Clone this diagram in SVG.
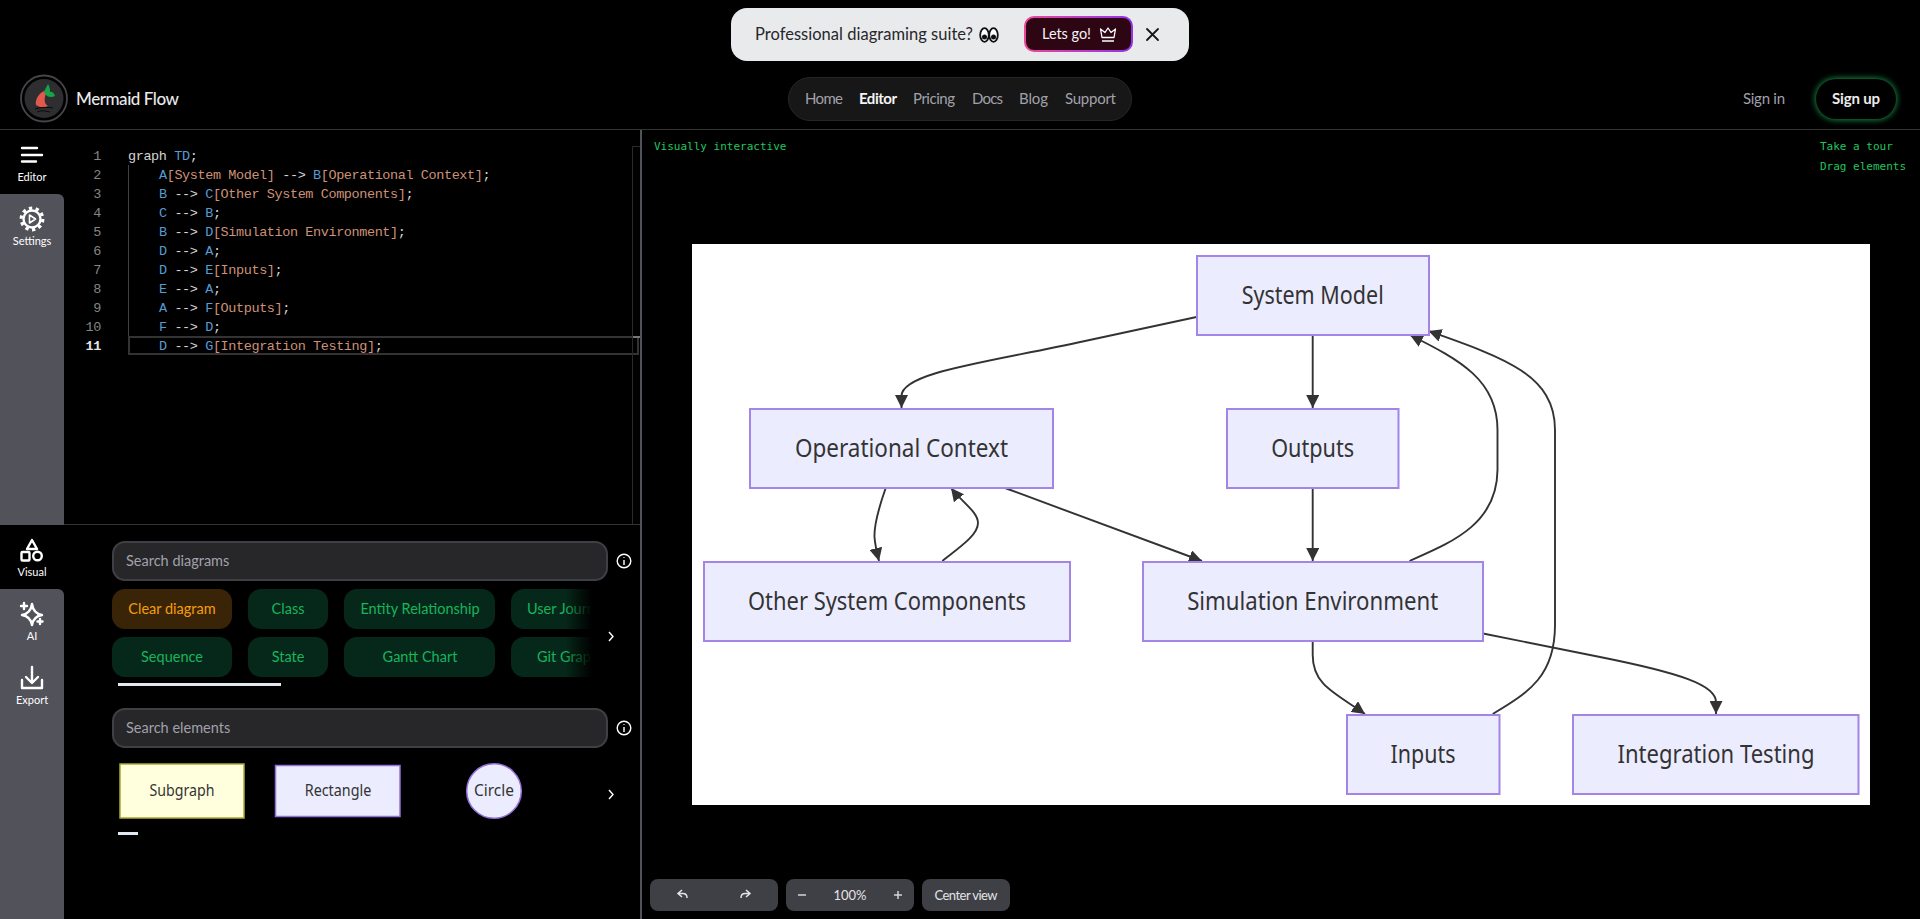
<svg xmlns="http://www.w3.org/2000/svg" width="1920" height="919" viewBox="0 0 1920 919">
<style>
text{font-family:"Lato","Noto Sans",sans-serif}
.code{font-family:"Liberation Mono","DejaVu Sans Mono",monospace;font-size:13.5px;letter-spacing:-.4px;fill:#d4d4d4;white-space:pre}
.b{fill:#569cd6}.o{fill:#ce9178}
.ln{font-family:"Liberation Mono","DejaVu Sans Mono",monospace;font-size:13.5px;letter-spacing:-.4px;fill:#858585;text-anchor:end}
.hint{font-family:"DejaVu Sans Mono","Liberation Mono",monospace;font-size:11px;fill:#22c55e}
.nav{font-size:15px;fill:#a1a1aa}
.side{font-size:11px;fill:#fff;text-anchor:middle}
.ic{fill:none;stroke:#fff;stroke-width:2.4;stroke-linecap:round;stroke-linejoin:round}
.search{fill:#27272a;stroke:#3f3f46;stroke-width:2}
.ph{font-size:14.5px;fill:#a1a1aa}
.pill{fill:#06281a}
.pt{font-size:14.5px;fill:#18b45c;text-anchor:middle}
.tb{fill:#3f3f46}
.tbt{font-size:13px;fill:#e4e4e7;text-anchor:middle}
.n{fill:#ececff;stroke:#a285e6;stroke-width:2}
.nt{font-family:"Noto Sans",sans-serif;font-size:25.5px;fill:#333;text-anchor:middle}
.et{font-family:"Noto Sans",sans-serif;font-size:16px;fill:#333;text-anchor:middle}
.e{fill:none;stroke:#333;stroke-width:1.9;marker-end:url(#ah)}
</style>
<defs>
<marker id="ah" markerUnits="userSpaceOnUse" markerWidth="13" markerHeight="13" viewBox="0 0 10 10" refX="10" refY="5" orient="auto"><path d="M0,0L10,5L0,10z" fill="#333"/></marker>
<linearGradient id="btn" x1="0" y1="0" x2="1" y2="0"><stop offset="0" stop-color="#ec4899"/><stop offset="1" stop-color="#9333ea"/></linearGradient>
<linearGradient id="fade" x1="0" y1="0" x2="1" y2="0"><stop offset="0" stop-color="#000" stop-opacity="0"/><stop offset="1" stop-color="#000"/></linearGradient>
<filter id="glow" x="-30%" y="-60%" width="160%" height="220%"><feGaussianBlur stdDeviation="3.5"/></filter>
</defs>
<rect id="bg" width="1920" height="919" fill="#000"/>

<g id="banner">
<rect x="731" y="8" width="458" height="53" rx="16" fill="#e9eaec"/>
<text x="755" y="39.5" font-size="16.5" fill="#27272a" textLength="218">Professional diagraming suite?</text>
<g id="eyes"><ellipse cx="984.500" cy="35" rx="4.300" ry="6.800" fill="#fff" stroke="#111" stroke-width="1.800"/><ellipse cx="993.500" cy="35" rx="4.300" ry="6.800" fill="#fff" stroke="#111" stroke-width="1.800"/><circle cx="984.500" cy="37" r="2.500" fill="#111"/><circle cx="993.500" cy="37" r="2.500" fill="#111"/></g>
<rect x="1025" y="17" width="107" height="34" rx="9" fill="#2e0512" stroke="url(#btn)" stroke-width="2"/>
<text x="1042" y="38.5" font-size="14.5" fill="#f4f4f5" textLength="49">Lets go!</text>
<path d="M1102,41H1114M1102,37.5L1100.5,29L1105,32.5L1108,28L1111,32.5L1115.5,29L1114,37.5Z" fill="none" stroke="#fff" stroke-width="1.3" stroke-linejoin="round"/>
<path d="M1147,29L1158,40M1158,29L1147,40" stroke="#18181b" stroke-width="1.8" stroke-linecap="round"/>
</g>

<g id="header">
<g id="logo"><circle cx="44" cy="98.500" r="23" fill="#000" stroke="#46464a" stroke-width="1.800"/><circle cx="44" cy="98.500" r="19.500" fill="#2e2e31"/>
<path d="M44,91C38,94 35,100 36,105C40,108 45,108 48,106C44,104 44,98 46,94Z" fill="#e4574c"/><path d="M44,92C45,89 47,86 48,84C50,87 50,90 50,92C52,91 54,93 55,96C51,98 46,97 44,92Z" fill="#16a34a"/>
<path d="M35,109C40,107 48,107 53,108M37,112C41,110 46,111 50,112" fill="none" stroke="#0a0a0a" stroke-width="1"/></g>
<text x="76" y="104.500" font-size="17" font-weight="500" fill="#e8e8ea" textLength="103">Mermaid Flow</text>
<rect x="788.5" y="77.5" width="343" height="43" rx="21.5" fill="#171717" stroke="#262626"/>
<text class="nav" x="805" y="103.500" textLength="38">Home</text>
<text class="nav" x="859" y="103.500" textLength="38" style="fill:#f4f4f5;font-weight:700">Editor</text>
<text class="nav" x="913" y="103.500" textLength="42">Pricing</text>
<text class="nav" x="972" y="103.500" textLength="31">Docs</text>
<text class="nav" x="1019" y="103.500" textLength="29">Blog</text>
<text class="nav" x="1065" y="103.500" textLength="51">Support</text>
<text class="nav" x="1743" y="103.500" textLength="42">Sign in</text>
<rect x="1816" y="79" width="80" height="40" rx="20" fill="#22c55e" filter="url(#glow)" opacity=".9"/>
<rect x="1816" y="79" width="80" height="40" rx="20" fill="#000"/>
<text x="1832" y="103.500" font-size="15" font-weight="700" fill="#ececec" textLength="48">Sign up</text>
<rect x="0" y="129" width="1920" height="1" fill="#333"/>
</g>

<g id="sidebar">
<path d="M0,589H58a6,6 0 0 1 6,6V919H0Z" fill="#52525b"/>
<path d="M0,194H58a6,6 0 0 1 6,6V525H0Z" fill="#52525b"/>
<path class="ic" d="M22,148H37M22,155H42M22,161.5H36"/>
<text class="side" x="32" y="180.5">Editor</text>
<g class="ic"><circle cx="32" cy="219" r="8.500"/><circle cx="32" cy="219" r="10.800" stroke-dasharray="3.300 3.480" stroke-width="3.200" style="stroke-linecap:butt"/><path d="M29.500,215L35.500,219L29.500,223Z" stroke-width="1.600"/></g>
<text class="side" x="32" y="244.500">Settings</text>
<path class="ic" d="M32,540L37,549H27Z"/><rect class="ic" x="21.500" y="552" width="8" height="8.500" rx="1"/><circle class="ic" cx="37.500" cy="556" r="4.300"/>
<text class="side" x="32" y="575.500">Visual</text>
<path class="ic" d="M32,604C33,611 36,614 42,615C36,616 33,619 32,625C31,619 28,616 22,615C28,614 31,611 32,604Z"/><path class="ic" stroke-width="1.800" d="M24,603V609M21,606H27M40,619V624M37.500,621.500H42.500"/>
<text class="side" x="32" y="639.500">AI</text>
<path class="ic" d="M32,667V682M26,677L32,683L38,677M22,680V688H42V680"/>
<text class="side" x="32" y="703.500">Export</text>
</g>

<g id="editor">
<rect x="128" y="165" width="1" height="189" fill="#404040"/>
<rect x="129" y="337" width="509" height="17" fill="none" stroke="#333" stroke-width="2"/>
<path d="M640,146.500H632.500V524" fill="none" stroke="#2a2a2a"/>
<rect x="633" y="336" width="7" height="2" fill="#777"/>
<text class="ln" x="101" y="160">1</text><text class="ln" x="101" y="179">2</text><text class="ln" x="101" y="198">3</text><text class="ln" x="101" y="217">4</text><text class="ln" x="101" y="236">5</text><text class="ln" x="101" y="255">6</text><text class="ln" x="101" y="274">7</text><text class="ln" x="101" y="293">8</text><text class="ln" x="101" y="312">9</text><text class="ln" x="101" y="331">10</text><text class="ln" x="101" y="350" style="fill:#e4e4e4;font-weight:700">11</text>
<text class="code" x="128" y="160" xml:space="preserve">graph <tspan class="b">TD</tspan>;</text>
<text class="code" x="159" y="179" xml:space="preserve"><tspan class="b">A</tspan><tspan class="o">[System Model]</tspan> --&gt; <tspan class="b">B</tspan><tspan class="o">[Operational Context]</tspan>;</text>
<text class="code" x="159" y="198" xml:space="preserve"><tspan class="b">B</tspan> --&gt; <tspan class="b">C</tspan><tspan class="o">[Other System Components]</tspan>;</text>
<text class="code" x="159" y="217" xml:space="preserve"><tspan class="b">C</tspan> --&gt; <tspan class="b">B</tspan>;</text>
<text class="code" x="159" y="236" xml:space="preserve"><tspan class="b">B</tspan> --&gt; <tspan class="b">D</tspan><tspan class="o">[Simulation Environment]</tspan>;</text>
<text class="code" x="159" y="255" xml:space="preserve"><tspan class="b">D</tspan> --&gt; <tspan class="b">A</tspan>;</text>
<text class="code" x="159" y="274" xml:space="preserve"><tspan class="b">D</tspan> --&gt; <tspan class="b">E</tspan><tspan class="o">[Inputs]</tspan>;</text>
<text class="code" x="159" y="293" xml:space="preserve"><tspan class="b">E</tspan> --&gt; <tspan class="b">A</tspan>;</text>
<text class="code" x="159" y="312" xml:space="preserve"><tspan class="b">A</tspan> --&gt; <tspan class="b">F</tspan><tspan class="o">[Outputs]</tspan>;</text>
<text class="code" x="159" y="331" xml:space="preserve"><tspan class="b">F</tspan> --&gt; <tspan class="b">D</tspan>;</text>
<text class="code" x="159" y="350" xml:space="preserve"><tspan class="b">D</tspan> --&gt; <tspan class="b">G</tspan><tspan class="o">[Integration Testing]</tspan>;</text>
</g>

<rect id="split-h" x="64" y="524" width="577" height="1" fill="#333"/>
<rect id="split-v" x="640" y="130" width="2" height="789" fill="#52525b"/>

<g id="library">
<rect class="search" x="113" y="542" width="494" height="38" rx="12"/>
<text class="ph" x="126" y="565.500">Search diagrams</text>
<g fill="none" stroke="#fff" stroke-width="1.400"><circle cx="624" cy="561" r="6.800"/><path d="M624,560V565M624,557V557.800"/></g>
<rect x="112" y="589" width="120" height="40" rx="13" fill="#3a2408"/>
<text class="pt" x="172" y="614" style="fill:#f59e0b">Clear diagram</text>
<rect class="pill" x="248" y="589" width="80" height="40" rx="13"/><text class="pt" x="288" y="614">Class</text>
<rect class="pill" x="344" y="589" width="151" height="40" rx="13"/><text class="pt" x="420" y="614">Entity Relationship</text>
<rect class="pill" x="511" y="589" width="100" height="40" rx="13"/><text x="527" y="614" font-size="14.500" fill="#18b45c">User Journ</text>
<rect class="pill" x="112" y="637" width="120" height="40" rx="13"/><text class="pt" x="172" y="662">Sequence</text>
<rect class="pill" x="248" y="637" width="80" height="40" rx="13"/><text class="pt" x="288" y="662">State</text>
<rect class="pill" x="344" y="637" width="151" height="40" rx="13"/><text class="pt" x="420" y="662">Gantt Chart</text>
<rect class="pill" x="511" y="637" width="100" height="40" rx="13"/><text x="537" y="662" font-size="14.500" fill="#18b45c">Git Grap</text>
<rect x="565" y="585" width="27" height="96" fill="url(#fade)"/><rect x="592" y="585" width="24" height="96" fill="#000"/>
<path d="M609,632L613,636.500L609,641" fill="none" stroke="#fff" stroke-width="1.400"/>
<rect x="118" y="683" width="163" height="3" fill="#e2e8f0"/>
<rect class="search" x="113" y="709" width="494" height="38" rx="12"/>
<text class="ph" x="126" y="732.500">Search elements</text>
<g fill="none" stroke="#fff" stroke-width="1.400"><circle cx="624" cy="728" r="6.800"/><path d="M624,727V732M624,724V724.800"/></g>
<rect x="120" y="764" width="124" height="54" fill="#ffffde" stroke="#aaaa33" stroke-width="1.500"/><text class="et" x="182" y="796" textLength="65" lengthAdjust="spacingAndGlyphs">Subgraph</text>
<rect x="275.500" y="765.500" width="124.500" height="51" fill="#ececff" stroke="#9370db" stroke-width="1.500"/><text class="et" x="338" y="796" textLength="66.500" lengthAdjust="spacingAndGlyphs">Rectangle</text>
<circle cx="494" cy="791" r="27.300" fill="#ececff" stroke="#9370db" stroke-width="1.500"/><text class="et" x="494" y="796" textLength="40" lengthAdjust="spacingAndGlyphs">Circle</text>
<path d="M609,790L613,794.500L609,799" fill="none" stroke="#fff" stroke-width="1.400"/>
<rect x="118" y="832" width="20" height="3" fill="#e2e8f0"/>
</g>

<g id="hints">
<text class="hint" x="654" y="150">Visually interactive</text>
<text class="hint" x="1820" y="150">Take a tour</text>
<text class="hint" x="1820" y="170">Drag elements</text>
</g>

<g id="toolbar">
<rect class="tb" x="650" y="879" width="128" height="32" rx="8"/>
<path d="M682,890L678,893.500L682,897M678.500,893.500H683C686,893.500 687,896 687,898" fill="none" stroke="#e4e4e7" stroke-width="1.500"/>
<path d="M746,890L750,893.500L746,897M749.500,893.500H745C742,893.500 741,896 741,898" fill="none" stroke="#e4e4e7" stroke-width="1.500"/>
<rect class="tb" x="786" y="879" width="128" height="32" rx="8"/>
<path d="M798,895H806M894,895H902M898,891V899" stroke="#d4d4d8" stroke-width="1.500"/>
<text class="tbt" x="850" y="900">100%</text>
<rect class="tb" x="922" y="879" width="88" height="32" rx="8"/>
<text class="tbt" x="966" y="900" textLength="63">Center view</text>
</g>

<rect id="canvas" x="692" y="244" width="1178" height="561" fill="#fff"/>

<g id="connectors">
<path class="e" d="M1196.500,317L1085,341C990,362 901.500,372 901.500,396L901.500,408"/>
<path class="e" d="M885.700,488C878,510 874,525 874.500,537C875,545 877,553 879,561"/>
<path class="e" d="M942.300,561C960,547 978,535 978,523C978,512 962,502 951,488"/>
<path class="e" d="M1005,488L1202,561"/>
<path class="e" d="M1312.700,335V408"/>
<path class="e" d="M1312.700,488V561"/>
<path class="e" d="M1409.500,561C1450,543 1497,525 1497.500,470L1497.500,430C1497.500,380 1460,360 1410,335"/>
<path class="e" d="M1492.700,714C1530,692 1555,675 1555,625L1555,430C1555,375 1505,358 1428.500,331"/>
<path class="e" d="M1312.700,641L1312.700,655C1312.700,685 1335,693 1365,714"/>
<path class="e" d="M1483,633.500L1600,657C1680,673 1716,685 1716,702L1716,714"/>
</g>

<g id="A"><rect class="n" x="1197" y="256" width="232" height="79"/><text class="nt" x="1312.700" y="304" textLength="142" lengthAdjust="spacingAndGlyphs">System Model</text></g>
<g id="B"><rect class="n" x="750" y="409" width="303" height="79"/><text class="nt" x="901.500" y="457" textLength="213" lengthAdjust="spacingAndGlyphs">Operational Context</text></g>
<g id="F"><rect class="n" x="1227" y="409" width="171.500" height="79"/><text class="nt" x="1312.700" y="457" textLength="83" lengthAdjust="spacingAndGlyphs">Outputs</text></g>
<g id="C"><rect class="n" x="704" y="562" width="366" height="79"/><text class="nt" x="887" y="610" textLength="278" lengthAdjust="spacingAndGlyphs">Other System Components</text></g>
<g id="D"><rect class="n" x="1143" y="562" width="340" height="79"/><text class="nt" x="1312.700" y="610" textLength="251" lengthAdjust="spacingAndGlyphs">Simulation Environment</text></g>
<g id="E"><rect class="n" x="1347" y="715" width="152.500" height="79"/><text class="nt" x="1423" y="763" textLength="65" lengthAdjust="spacingAndGlyphs">Inputs</text></g>
<g id="G"><rect class="n" x="1573" y="715" width="285.500" height="79"/><text class="nt" x="1716" y="763" textLength="197" lengthAdjust="spacingAndGlyphs">Integration Testing</text></g>
</svg>
